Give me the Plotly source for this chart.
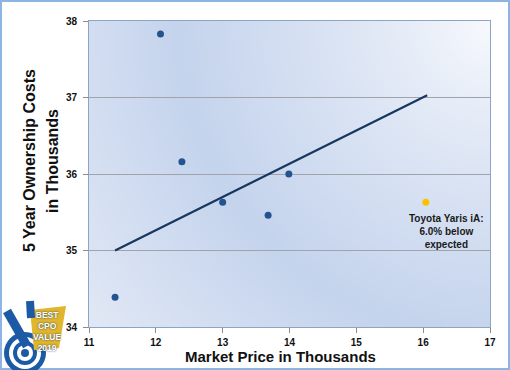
import base64, struct, zlib, math
import plotly.graph_objects as go

# ---------------- data ----------------
market_price = [12.07, 12.39, 13.00, 13.68, 13.99, 11.39]
ownership_cost = [37.83, 36.16, 35.63, 35.46, 36.00, 34.39]
yaris_price = [16.04]
yaris_cost = [35.63]
trend_x = [11.39, 16.06]
trend_y = [35.00, 37.03]
x_ticks = [11, 12, 13, 14, 15, 16, 17]
y_ticks = [34, 35, 36, 37, 38]
yaris_label = "Toyota Yaris iA:<br>6.0% below<br>expected"
x_title = "Market Price in Thousands"
y_title_lines = ["5 Year Ownership Costs", "in Thousands"]

W, H = 510, 370
ML, MR, MT, MB = 89, 20, 21, 43
PW, PH = W - ML - MR, H - MT - MB


def px(x):
    return (x - ML) / PW


def py(y):
    return (H - MB - y) / PH


# ------------- gradient background image (radial from top-right) -------------
def gradient_png(w=100, h=76):
    c0 = (250, 251, 254)
    c1 = (197, 212, 237)
    c2 = (226, 233, 246)
    diag = math.hypot(w, h)
    rows = b""
    for j in range(h):
        row = b"\x00"
        for i in range(w):
            d = math.hypot(w - i, j) / diag
            if d < 0.62:
                s = (d / 0.62) ** 0.8
                c = [int(c0[k] + (c1[k] - c0[k]) * s) for k in range(3)]
            else:
                s = (d - 0.62) / 0.38
                c = [int(c1[k] + (c2[k] - c1[k]) * s) for k in range(3)]
            row += bytes(c)
        rows += row

    def chunk(tag, data):
        return struct.pack(">I", len(data)) + tag + data + struct.pack(">I", zlib.crc32(tag + data) & 0xffffffff)

    png = b"\x89PNG\r\n\x1a\n" + chunk(b"IHDR", struct.pack(">IIBBBBB", w, h, 8, 2, 0, 0, 0)) \
        + chunk(b"IDAT", zlib.compress(rows)) + chunk(b"IEND", b"")
    return "data:image/png;base64," + base64.b64encode(png).decode()


FONT = "Liberation Sans"

fig = go.Figure()
fig.add_trace(go.Scatter(x=trend_x, y=trend_y, mode="lines",
                         line=dict(color="#17375e", width=2.2), hoverinfo="skip"))
fig.add_trace(go.Scatter(x=market_price, y=ownership_cost, mode="markers",
                         marker=dict(color="#24548f", size=7)))
fig.add_trace(go.Scatter(x=yaris_price, y=yaris_cost, mode="markers",
                         marker=dict(color="#ffc000", size=7)))

fig.add_annotation(x=yaris_price[0], y=yaris_cost[0], text=yaris_label, showarrow=False,
                   xanchor="center", yanchor="top", xshift=21, yshift=-9,
                   font=dict(family=FONT, size=10, color="#1a1a1a", weight="bold"))

# axis titles
fig.add_annotation(xref="paper", yref="paper", x=px(280), y=py(356), text=x_title,
                   showarrow=False, xanchor="center", yanchor="middle",
                   font=dict(family=FONT, size=15, color="#111", weight="bold"))
for line_text, cx in zip(y_title_lines, [29, 52]):
    fig.add_annotation(xref="paper", yref="paper", x=px(cx), y=py(161), text=line_text,
                       showarrow=False, xanchor="center", yanchor="middle", textangle=-90,
                       font=dict(family=FONT, size=16, color="#111", weight="bold"))

shapes = []
# outer frame
shapes.append(dict(type="rect", xref="paper", yref="paper", x0=px(1), x1=px(509), y0=py(369), y1=py(1),
                   line=dict(color="#8db4e2", width=2), layer="above"))

# ---------- badge (decorative) ----------
for r, col in [(21, "#1d5aa6"), (16, "white"), (12, "#1d5aa6"), (8, "white"), (4, "#1d5aa6")]:
    shapes.append(dict(type="circle", xref="paper", yref="paper",
                       x0=px(25 - r), x1=px(25 + r), y0=py(353 + r), y1=py(353 - r),
                       fillcolor=col, line=dict(width=0), layer="above"))
shapes.append(dict(type="path", xref="paper", yref="paper",
                   path=f"M {px(30)},{py(310)} L {px(66)},{py(306)} L {px(59)},{py(348)} L {px(34)},{py(350)} Z",
                   fillcolor="#e0b62e", line=dict(width=0), layer="above"))
shapes.append(dict(type="line", xref="paper", yref="paper", x0=px(7), y0=py(311), x1=px(27), y1=py(346),
                   line=dict(color="#1d5aa6", width=9), layer="above"))
shapes.append(dict(type="line", xref="paper", yref="paper", x0=px(30), y0=py(301), x1=px(31), y1=py(318),
                   line=dict(color="#1d5aa6", width=8), layer="above"))
fig.update_layout(shapes=shapes)
badge_text = "BEST<br>CPO<br>VALUE<br>2019"
fig.add_annotation(xref="paper", yref="paper", x=px(47), y=py(331), text=badge_text, showarrow=False,
                   xanchor="center", yanchor="middle",
                   font=dict(family=FONT, size=8.5, color="white", weight="bold",
                             shadow="0px 0px 2px #0e2f66"))

fig.update_layout(
    width=W, height=H,
    margin=dict(l=ML, r=MR, t=MT, b=MB, pad=0),
    paper_bgcolor="white",
    plot_bgcolor="#d0dcf0",
    showlegend=False,
    images=[dict(source=gradient_png(), xref="paper", yref="paper", x=0, y=1, sizex=1, sizey=1,
                 sizing="stretch", xanchor="left", yanchor="top", layer="below")],
    xaxis=dict(range=[x_ticks[0], x_ticks[-1]], tickvals=x_ticks, ticktext=[str(v) for v in x_ticks],
               showgrid=False, zeroline=False, showline=True, linecolor="#8ea4c4", linewidth=1, mirror=True,
               ticks="outside", ticklen=5, tickcolor="#8c8c8c", ticklabelstandoff=1,
               tickfont=dict(family=FONT, size=10, color="#111", weight="bold")),
    yaxis=dict(range=[y_ticks[0], y_ticks[-1]], tickvals=y_ticks, ticktext=[str(v) for v in y_ticks],
               showgrid=True, gridcolor="#a0a4aa", gridwidth=1, zeroline=False,
               showline=True, linecolor="#8ea4c4", linewidth=1, mirror=True,
               ticks="outside", ticklen=5, tickcolor="#8c8c8c", ticklabelstandoff=4,
               tickfont=dict(family=FONT, size=10, color="#111", weight="bold")),
)

fig.write_html("out.html", config={"displayModeBar": False},
               post_script="document.body.style.margin='0';document.body.style.overflow='hidden';")
